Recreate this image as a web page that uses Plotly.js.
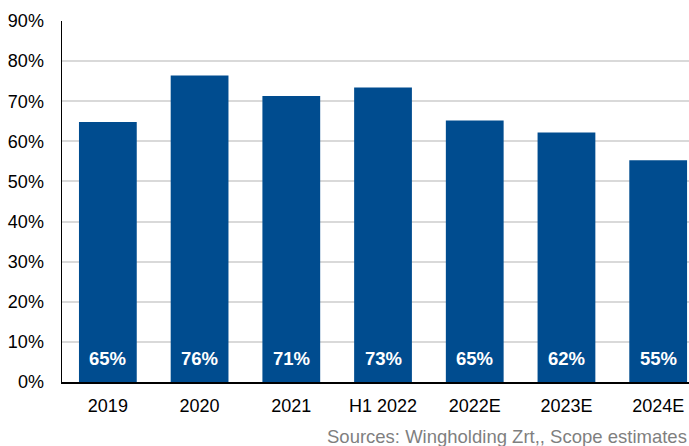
<!DOCTYPE html>
<html>
<head>
<meta charset="utf-8">
<script src="https://cdn.plot.ly/plotly-3.0.1.min.js"></script>
<style>html,body{margin:0;padding:0;overflow:hidden;background:#fff;}</style>
</head>
<body>
<div id="chart" style="width:689px;height:446px;"></div>
<script>
const categories = ["2019", "2020", "2021", "H1 2022", "2022E", "2023E", "2024E"];
const values = [64.8, 76.4, 71.3, 73.4, 65.2, 62.2, 55.3];
const labels = ["65%", "76%", "71%", "73%", "65%", "62%", "55%"];
const sourceText = "Sources: Wingholding Zrt,, Scope estimates";

const font = "Liberation Sans, Arial, sans-serif";

const trace = {
  type: "bar",
  x: categories,
  y: values,
  marker: {color: "#004C8F", line: {width: 0}},
  hoverinfo: "skip"
};

const annotations = categories.map((c, i) => ({
  x: i, y: 0, xref: "x", yref: "y",
  text: "<b>" + labels[i] + "</b>",
  showarrow: false, yanchor: "middle", yshift: 24,
  font: {family: font, size: 18.5, color: "#ffffff"}
}));
annotations.push({
  xref: "paper", yref: "paper", x: 1, y: -0.152,
  xanchor: "right", yanchor: "middle",
  text: sourceText, showarrow: false,
  font: {family: font, size: 18.5, color: "#7f7f7f"}
});

const layout = {
  width: 689, height: 446,
  margin: {l: 62, r: 0, t: 21, b: 64},
  paper_bgcolor: "#fff", plot_bgcolor: "#fff",
  showlegend: false,
  bargap: 0.37,
  font: {family: font, size: 18, color: "#000"},
  xaxis: {
    type: "category",
    range: [-0.5, 6.336],
    showgrid: false,
    showline: true, linecolor: "#000", linewidth: 1.5,
    ticks: "", ticklabelstandoff: 7,
    tickfont: {family: font, size: 18, color: "#000"},
    fixedrange: true
  },
  yaxis: {
    range: [0, 90],
    dtick: 10, tick0: 0,
    ticksuffix: "%",
    showgrid: true, gridcolor: "#D9D9D9", gridwidth: 2,
    zeroline: false,
    showline: true, linecolor: "#000", linewidth: 1.5,
    ticks: "", ticklabelstandoff: 13,
    tickfont: {family: font, size: 18, color: "#000"},
    fixedrange: true
  },
  annotations: annotations
};

Plotly.newPlot("chart", [trace], layout, {displayModeBar: false, staticPlot: true});
</script>
</body>
</html>
